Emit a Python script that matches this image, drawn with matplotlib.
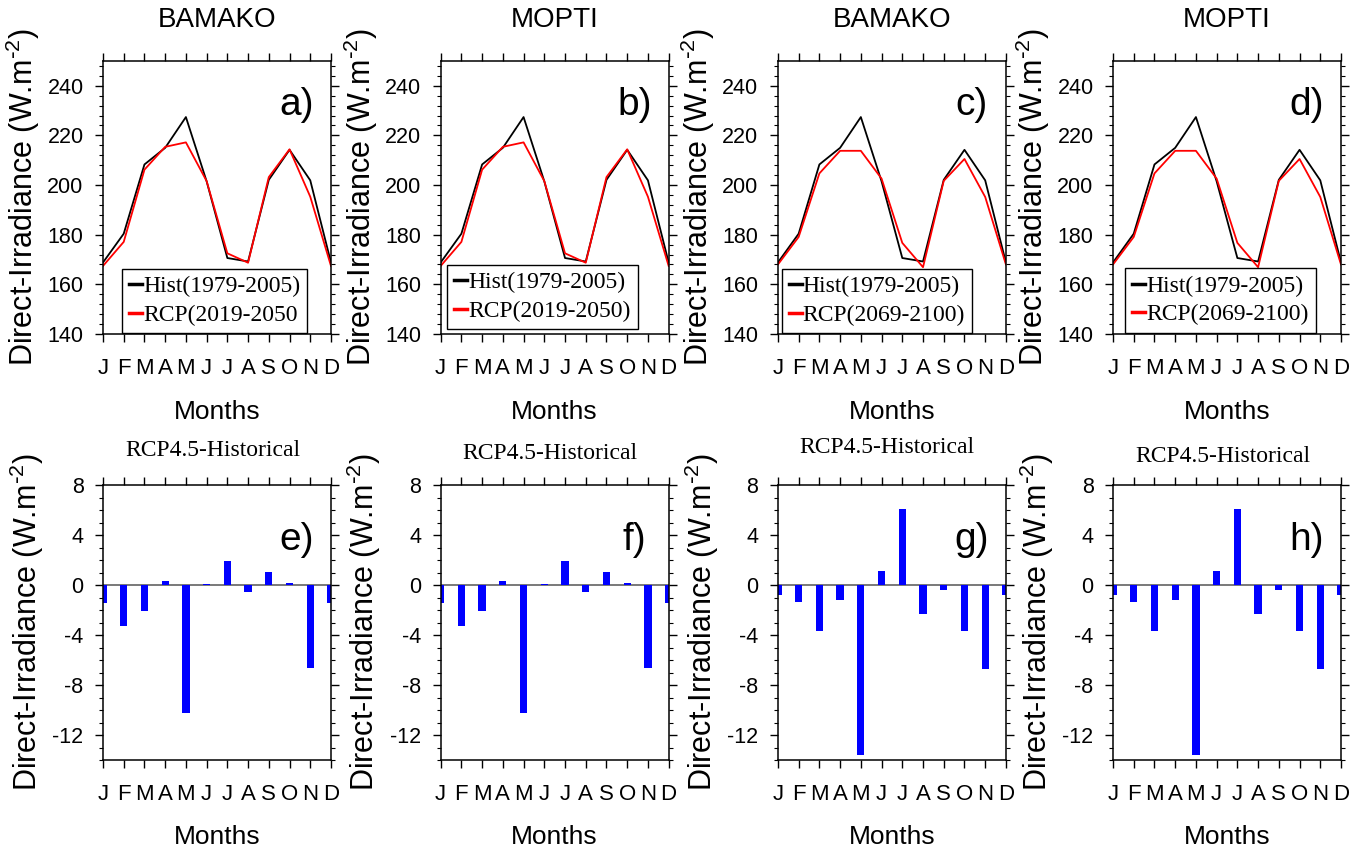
import numpy as np
import matplotlib.pyplot as plt
from matplotlib.ticker import MultipleLocator

# monthly direct irradiance (W.m-2), one value per month tick
months = ['J', 'F', 'M', 'A', 'M', 'J', 'J', 'A', 'S', 'O', 'N', 'D']
hist = [168.8, 180.4, 208.3, 215.0, 227.4, 201.5, 170.6, 169.2, 202.1, 214.2, 201.9, 168.8]
rcp_2019_2050 = [167.4, 177.1, 206.2, 215.4, 217.2, 201.6, 172.5, 168.7, 203.2, 214.4, 195.3, 167.4]
rcp_2069_2100 = [168.0, 179.1, 204.7, 213.8, 213.8, 202.6, 176.7, 166.9, 201.7, 210.5, 195.2, 168.0]

# RCP4.5 minus historical
diff_2019_2050 = [-1.45, -3.3, -2.1, 0.35, -10.2, 0.12, 1.9, -0.55, 1.05, 0.15, -6.65, -1.45]
diff_2069_2100 = [-0.8, -1.35, -3.65, -1.2, -13.6, 1.1, 6.1, -2.3, -0.4, -3.7, -6.7, -0.8]

plt.rcParams['font.family'] = 'Liberation Sans'
plt.rcParams['mathtext.default'] = 'regular'
plt.rcParams['axes.unicode_minus'] = False

ylab = r'Direct-Irradiance (W.m$^{\text{-}2}$)'
serif = 'Liberation Serif'
x = np.arange(len(months))

fig = plt.figure(figsize=(13.66, 8.55), dpi=100)
lefts = [0.0754, 0.3226, 0.5695, 0.8148]
W = 0.1669


def style_axes(ax, ylim, yticks, minor):
    ax.set_xlim(0, 11)
    ax.set_xticks(x)
    ax.set_xticklabels(months)
    ax.set_ylim(*ylim)
    ax.set_yticks(yticks)
    ax.yaxis.set_minor_locator(MultipleLocator(minor))
    ax.tick_params(which='both', direction='out', top=True, right=True)
    ax.tick_params(which='major', length=6, width=1)
    ax.tick_params(which='minor', length=3, width=0.8)
    ax.tick_params(axis='x', pad=11, labelsize=16)
    ax.tick_params(axis='y', pad=8, labelsize=15.5)
    for s in ax.spines.values():
        s.set_linewidth(1.1)


# top row: seasonal cycle
top = [
    ('BAMAKO', 'a)', rcp_2019_2050, 'RCP(2019-2050', (0.083, 0.004)),
    ('MOPTI', 'b)', rcp_2019_2050, 'RCP(2019-2050)', (0.028, 0.018)),
    ('BAMAKO', 'c)', rcp_2069_2100, 'RCP(2069-2100)', (0.016, 0.004)),
    ('MOPTI', 'd)', rcp_2069_2100, 'RCP(2069-2100)', (0.053, 0.005)),
]
for left, (city, tag, rcp, rcp_label, anchor) in zip(lefts, top):
    ax = fig.add_axes([left, 0.6094, W, 0.3193])
    ax.plot(x, hist, color='black', lw=1.3, label='Hist(1979-2005)')
    ax.plot(x, rcp, color='red', lw=1.3, label=rcp_label)
    style_axes(ax, (140, 250), np.arange(140, 241, 20), 4)
    leg = ax.legend(loc='lower left', bbox_to_anchor=anchor, prop={'family': serif, 'size': 17},
                    handlelength=0.55, handletextpad=0.05, borderpad=0.3, labelspacing=0.3,
                    fancybox=False, framealpha=1, edgecolor='black', borderaxespad=0)
    leg.get_frame().set_linewidth(1.0)
    for h in leg.get_lines():
        h.set_linewidth(2.5)
    ax.text(0.5, 1.15, city, transform=ax.transAxes, ha='center', va='center', fontsize=20)
    ax.text(0.85, 0.84, tag, transform=ax.transAxes, ha='center', va='center', fontsize=28)
    ax.text(0.5, -0.286, 'Months', transform=ax.transAxes, ha='center', va='center', fontsize=19)
    ax.text(-0.351, 0.5, ylab, transform=ax.transAxes, rotation=90,
            ha='center', va='center', fontsize=22)

# bottom row: difference bars
bottom = [
    ('e)', diff_2019_2050, 1.127),
    ('f)', diff_2019_2050, 1.116),
    ('g)', diff_2069_2100, 1.138),
    ('h)', diff_2069_2100, 1.102),
]
for left, (tag, diff, ty) in zip(lefts, bottom):
    ax = fig.add_axes([left, 0.1111, W, 0.3216])
    ax.axhline(0, color='#6e6e6e', lw=1.3, zorder=1)
    ax.bar(x, diff, width=0.35, color='#0000ff', zorder=2)
    style_axes(ax, (-14, 8), np.arange(-12, 9, 4), 1)
    ax.text(0.48, ty, 'RCP4.5-Historical', transform=ax.transAxes, ha='center', va='center',
            fontsize=17, family=serif)
    ax.text(0.85, 0.80, tag, transform=ax.transAxes, ha='center', va='center', fontsize=28)
    ax.text(0.5, -0.28, 'Months', transform=ax.transAxes, ha='center', va='center', fontsize=19)
    ax.text(-0.335, 0.5, ylab, transform=ax.transAxes, rotation=90,
            ha='center', va='center', fontsize=22)

fig.savefig('out.png', dpi=100)
